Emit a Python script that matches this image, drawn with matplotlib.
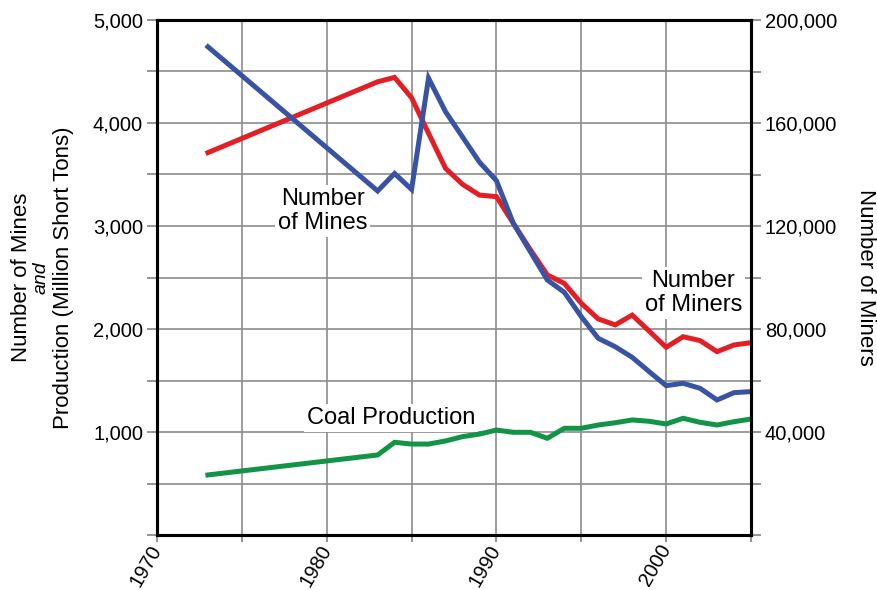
#!/usr/bin/env python3

import numpy as np
import matplotlib.pyplot as plt
from matplotlib.ticker import FuncFormatter

plt.rcParams['font.family'] = ['Liberation Sans', 'DejaVu Sans']

years = [ 1973, 1983, 1984, 1985, 1986, 1987, 1988, 1989, 1990, 1991, 1992,
          1993, 1994, 1995, 1996, 1997, 1998, 1999, 2000, 2001, 2002, 2003,
          2004, 2005 ]

mines = [ 4740, 3340, 3510, 3355, 4435, 4110, 3865, 3620, 3440, 3025, 2750,
          2476, 2356, 2120, 1909, 1828, 1725, 1586, 1450, 1473, 1424, 1311,
          1382, 1392 ]

miners = [ 148500, 176000, 177700, 169800, 156000, 142400, 136200, 132000,
           131400, 121000, 110800, 101000, 97700, 90000, 83900, 81600, 85400,
           79200, 72900, 77000, 75500, 71200, 73800, 74700 ]

production = [ 583, 777, 900, 883, 883, 913, 955, 980, 1019, 997, 997, 939,
               1036, 1036, 1068, 1090, 1117, 1104, 1078, 1133, 1094, 1068,
               1100, 1126 ]

c_red   = '#e31f26'
c_blue  = '#3953a4'
c_green = '#129447'
c_grid  = '#8c8c8c'
lw = 3.6

fig = plt.figure( figsize = ( 8.77, 5.90 ), dpi = 100 )
ax = fig.add_axes( [ 157/877, 1 - 535/590, (751-157)/877, (535-20)/590 ] )
ax2 = ax.twinx()

# production on the left scale
ax.plot( years, production, c = c_green, lw = lw, solid_joinstyle = 'miter' )

# miners on the right scale, mines drawn above it on the left scale
ax2.plot( years, miners, c = c_red, lw = lw, solid_joinstyle = 'miter' )
ax2.plot( years, mines, c = c_blue, lw = lw, solid_joinstyle = 'miter',
          transform = ax.transData )

ax.set_xlim( 1970, 2005 )
ax.set_ylim( 0, 5000 )
ax2.set_ylim( 0, 200000 )

ax.set_xticks( np.arange( 1970, 2006, 5 ) )
ax.set_xticklabels( [ str(y) if y % 10 == 0 else '' for y in range( 1970, 2006, 5 ) ],
                    rotation = 60, ha = 'right', va = 'center',
                    rotation_mode = 'anchor' )
ax.set_yticks( np.arange( 0, 5001, 500 ) )
ax.yaxis.set_major_formatter( FuncFormatter(
    lambda v, p: '{:,.0f}'.format( v ) if v > 0 and v % 1000 == 0 else '' ) )
ax2.set_yticks( np.arange( 0, 200001, 20000 ) )
ax2.yaxis.set_major_formatter( FuncFormatter(
    lambda v, p: '{:,.0f}'.format( v ) if v > 0 and v % 40000 == 0 else '' ) )

for a in ( ax, ax2 ):
    a.tick_params( which = 'both', direction = 'out', length = 7, width = 1.3,
                   color = c_grid, labelsize = 14.5, pad = 3 )
    for s in a.spines.values():
        s.set_linewidth( 2.2 )
        s.set_color( 'black' )
ax.tick_params( axis = 'x', length = 5, pad = 3, labelsize = 14.5 )

ax.grid( True, color = c_grid, lw = 1.2 )
ax.set_axisbelow( True )

bb = dict( facecolor = 'white', edgecolor = 'none', pad = 2 )
ax.text( 1979.76, 3146, 'Number\nof Mines', fontsize = 17, ha = 'center',
         va = 'center', bbox = bb, zorder = 3, linespacing = 1.1 )
ax.text( 1983.8, 1136, 'Coal Production', fontsize = 17, ha = 'center',
         va = 'center', bbox = bb, zorder = 3 )
ax.text( 2001.6, 2350, 'Number\nof Miners', fontsize = 17, ha = 'center',
         va = 'center', bbox = bb, zorder = 3, linespacing = 1.1 )

ymid = 1 - 277.5/590
fig.text( 22/877, ymid, 'Number of Mines', fontsize = 16, rotation = 90,
          ha = 'center', va = 'center' )
fig.text( 41/877, ymid, 'and', fontsize = 14, style = 'italic', rotation = 90,
          ha = 'center', va = 'center' )
fig.text( 63/877, ymid, 'Production (Million Short Tons)', fontsize = 16,
          rotation = 90, ha = 'center', va = 'center' )
fig.text( 865/877, ymid, 'Number of Miners', fontsize = 16, rotation = 270,
          ha = 'center', va = 'center' )

plt.savefig( 'out.png', dpi = 100 )
plt.close()
